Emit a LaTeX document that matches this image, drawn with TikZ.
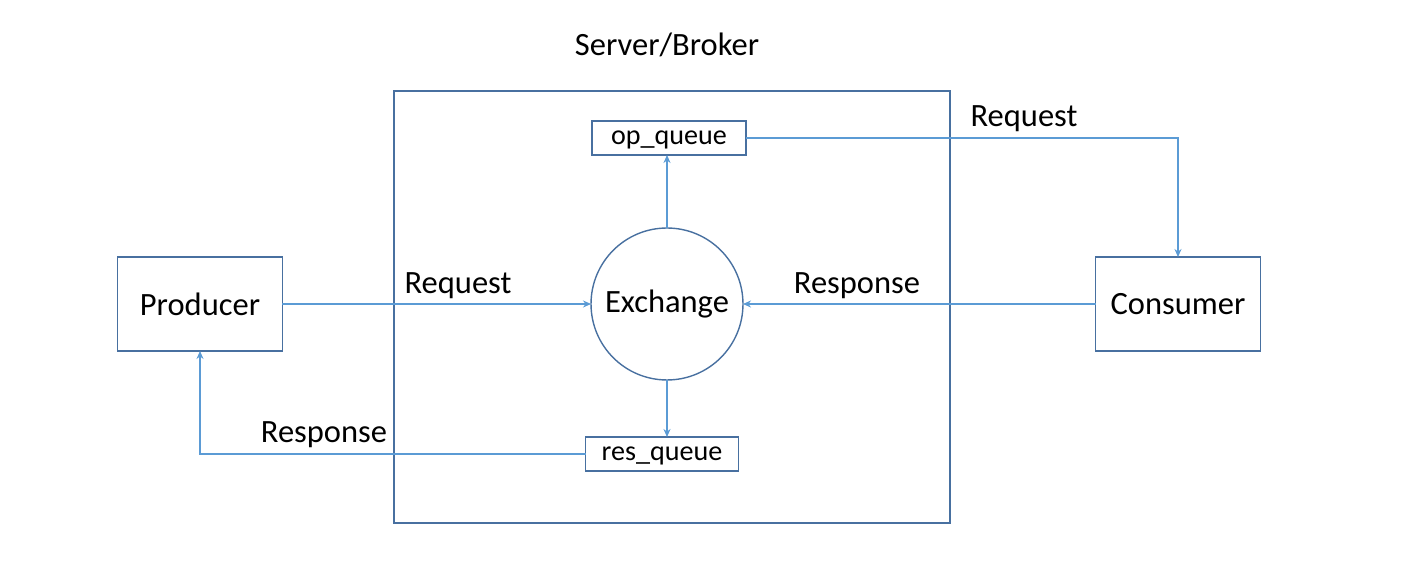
\documentclass[tikz,border=0pt]{standalone}
\usepackage{fontspec}
\setmainfont{Carlito}
\usetikzlibrary{arrows.meta}
\definecolor{boxblue}{RGB}{72,112,160}
\definecolor{lineblue}{RGB}{91,155,213}
\tikzset{
  bx/.style={draw=boxblue, line width=0.8pt, inner sep=0pt, outer sep=0pt,
             font=\fontsize{18.5}{22}\selectfont},
  qbx/.style={bx, minimum height=0.68cm, text depth=0pt,
              font=\fontsize{16}{19}\selectfont},
  lbl/.style={font=\fontsize{18.5}{22}\selectfont, inner sep=0pt},
  fa/.style={-{Stealth[length=1.6mm,width=1.4mm]}, lineblue, line width=0.8pt}
}
\begin{document}
\begin{tikzpicture}[x=0.02cm,y=-0.02cm]
  \useasboundingbox (0,0) rectangle (1424,573);
  % broker
  \node[bx, minimum width=11.12cm, minimum height=8.64cm] (broker) at (672,307) {};
  \node[lbl] (brokerlbl) at (667,45) {Server/Broker};
  % nodes
  \node[bx, circle, minimum size=3.04cm] (exch) at (667,304) {Exchange};
  \node[qbx, minimum width=3.08cm] (opq) at (669,138) {op\_queue};
  \node[qbx, minimum width=3.06cm] (resq) at (662,454) {res\_queue};
  \node[bx, minimum width=3.3cm, minimum height=1.88cm] (prod) at (200,304) {Producer};
  \node[bx, minimum width=3.3cm, minimum height=1.88cm] (cons) at (1178,304) {Consumer};
  % connectors
  \draw[fa] (prod.east) -- (exch.west);
  \draw[fa] (cons.west) -- (exch.east);
  \draw[fa] (exch.north) -- (exch.north |- opq.south);
  \draw[fa] (exch.south) -- (exch.south |- resq.north);
  \draw[fa] (opq.east) -| (cons.north);
  \draw[fa] (resq.west) -| (prod.south);
  % labels
  \node[lbl] (reqa) at (458,286) {Request};
  \node[lbl] (resa) at (857,286) {Response};
  \node[lbl] (reqb) at (1024,119) {Request};
  \node[lbl] (resb) at (324,435) {Response};
\end{tikzpicture}
\end{document}
